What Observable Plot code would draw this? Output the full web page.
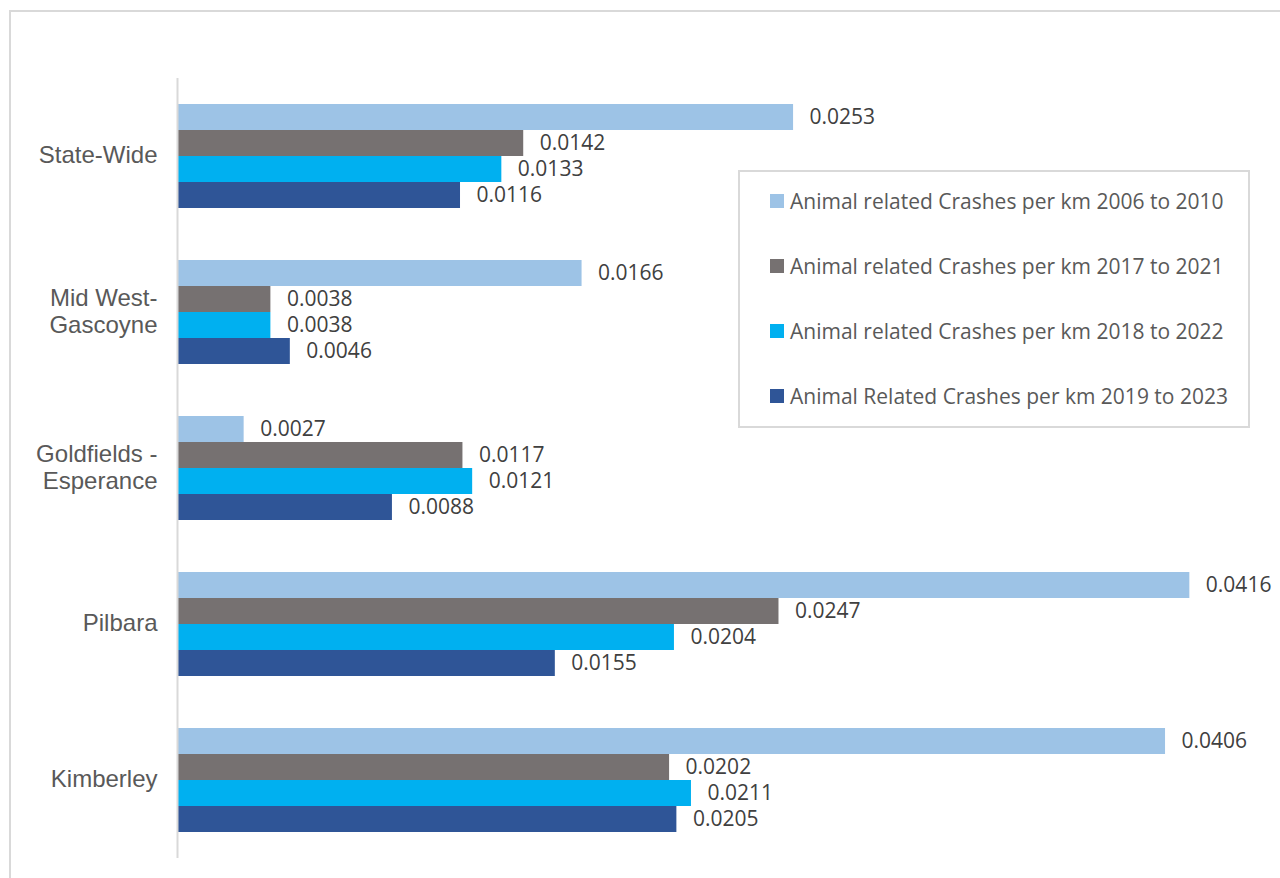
<!DOCTYPE html>
<html>
<head>
<meta charset="utf-8">
<script src="https://cdn.jsdelivr.net/npm/d3@7"></script>
<script src="https://cdn.jsdelivr.net/npm/@observablehq/plot@0.6"></script>
<style>
  html, body { margin: 0; padding: 0; background: #fff; overflow: hidden; }
  #wrap { position: relative; width: 1280px; height: 878px; }
  #outer { position: absolute; left: 9px; top: 10px; width: 1300px; height: 900px; border: 2px solid #d9d9d9; box-sizing: border-box; }
  #chart { position: absolute; left: 0; top: 0; }
  #legend { position: absolute; left: 738px; top: 170px; width: 512px; height: 258px; border: 2px solid #d9d9d9; box-sizing: border-box; background: #fff; font-family: "Open Sans", sans-serif; font-size: 21px; color: #595959; }
  .row { position: absolute; left: 30px; height: 28px; display: flex; align-items: center; white-space: nowrap; }
  .sw { width: 14px; height: 14px; margin-right: 6px; flex: none; }
</style>
</head>
<body>
<div id="wrap">
  <div id="outer"></div>
  <div id="chart"></div>
  <div id="legend"></div>
</div>
<script>
const regions = ["State-Wide", "Mid West-Gascoyne", "Goldfields - Esperance", "Pilbara", "Kimberley"];
const series = [
  "Animal related Crashes per km 2006 to 2010",
  "Animal related Crashes per km 2017 to 2021",
  "Animal related Crashes per km 2018 to 2022",
  "Animal Related Crashes per km 2019 to 2023"
];
const colors = ["#9dc3e6", "#767171", "#00b0f0", "#2f5597"];
const values2006to2010 = [0.0253, 0.0166, 0.0027, 0.0416, 0.0406];
const values2017to2021 = [0.0142, 0.0038, 0.0117, 0.0247, 0.0202];
const values2018to2022 = [0.0133, 0.0038, 0.0121, 0.0204, 0.0211];
const values2019to2023 = [0.0116, 0.0046, 0.0088, 0.0155, 0.0205];
const seriesValues = [values2006to2010, values2017to2021, values2018to2022, values2019to2023];

const data = [];
regions.forEach((r, i) => {
  series.forEach((s, j) => data.push({region: r, series: s, value: seriesValues[j][i]}));
});

const labelFormat = d => d.replace("West-", "West-\n").replace(" - ", " -\n");

const plot = Plot.plot({
  width: 1280,
  height: 878,
  marginTop: 78,
  marginBottom: 20,
  marginLeft: 178,
  marginRight: 8,
  style: {background: "transparent"},
  x: {domain: [0, 0.045], axis: null},
  y: {domain: series, paddingInner: 0, paddingOuter: 0.92, axis: null},
  fy: {domain: regions, padding: 0, axis: null},
  color: {domain: series, range: colors},
  marks: [
    Plot.barX(data, {x: "value", y: "series", fy: "region", fill: "series"}),
    Plot.ruleX([0], {stroke: "#d9d9d9", strokeWidth: 2, dx: -1}),
    Plot.text(data, {
      x: "value", y: "series", fy: "region",
      text: d => d.value.toFixed(4),
      dx: 16, textAnchor: "start",
      fill: "#404040", fontSize: 21, fontFamily: "Open Sans"
    }),
    Plot.axisFy({
      anchor: "left", tickSize: 0, tickPadding: 21, label: null,
      tickFormat: labelFormat, fontSize: 24, fontFamily: "Liberation Sans",
      fill: "#595959", lineHeight: 1.15, dy: -2
    })
  ]
});
document.getElementById("chart").appendChild(plot);

const legend = document.getElementById("legend");
const rowTops = [15, 80, 145, 210];
series.forEach((s, i) => {
  const row = document.createElement("div");
  row.className = "row";
  row.style.top = rowTops[i] + "px";
  const sw = document.createElement("span");
  sw.className = "sw";
  sw.style.background = colors[i];
  const t = document.createElement("span");
  t.textContent = s;
  row.appendChild(sw);
  row.appendChild(t);
  legend.appendChild(row);
});
</script>
</body>
</html>
